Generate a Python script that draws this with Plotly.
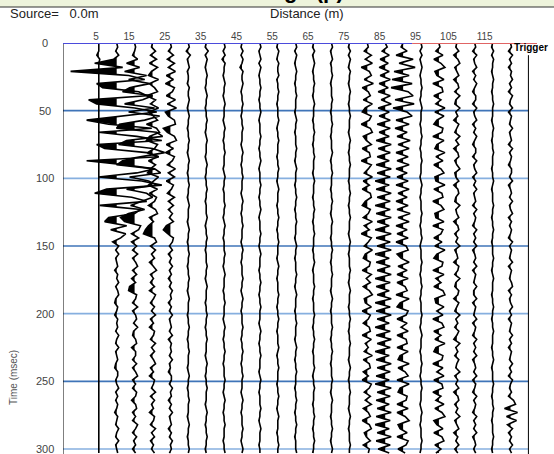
import numpy as np
import plotly.graph_objects as go

# ---------------- data ----------------
DT_MS = 3.0  # sample interval of every trace
OFFSETS_M = [5, 10, 15, 20, 25, 30, 35, 40, 45, 50, 55, 60,
             65, 70, 75, 80, 85, 90, 95, 100, 105, 110, 115, 120]
X_TICKS = [5, 15, 25, 35, 45, 55, 65, 75, 85, 95, 105, 115]
Y_TICKS = [0, 50, 100, 150, 200, 250, 300]

TR_05 = [0, 0, 0, -2, 1, 0, 0, 0, 0, 0,
         0, 0, 0, 0, 0, 0, 0, 0, 0, 0,
         0, 0, 0, 0, 0, 0, 0, 0, 0, 0,
         0, 0, 0, 0, 0, 0, 0, 0, 0, 0,
         0, 0, 0, 0, 0, 0, 0, 0, 0, 0,
         0, 0, 0, 0, 0, 0, 0, 0, 0, 0,
         0, 0, 0, 0, 0, 0, 0, 0, 0, 0,
         0, 0, 0, 0, 0, 0, 0, 0, 0, 0,
         0, 0, 0, 0, 0, 0, 0, 0, 0, 0,
         0, 0, 0, 0, 0, 0, 0, 0, 0, 0, 0, 0]
TR_10 = [0, 1, -1, 2, -3, -22, 6, -46, 12, 28,
         -20, -14, 22, 30, -28, -20, 18, 40, 5, -30,
         -8, 35, -18, 20, 45, -20, -12, 30, 42, -30,
         8, 38, 20, -18, 25, 45, -10, -22, 15, 30,
         -17, 24, 18, -8, -12, 10, -6, 9, 4, -4,
         2, -1, 2, -1, 0, 1, -2, 1, 0, 2,
         -1, 1, 2, -1, -2, 1, 0, -2, 1, 0,
         1, -1, 2, 0, -1, 2, -1, 0, 1, -1,
         -2, 1, 1, -1, 0, 2, -1, 1, -1, 1,
         0, -2, 1, 0, -1, 2, 0, -1, 2, -1, 0, 1]
TR_15 = [0, 1, 0, -2, 3, -8, 5, -10, 12, -6,
         15, -5, -12, 18, 8, -10, 20, -6, 25, 10,
         -15, -18, 22, 28, -8, -16, 18, 30, 5, -12,
         -18, 20, 26, -5, 14, 22, -8, 12, 18, 6,
         -4, 10, -6, -14, -10, 6, 4, -3, 4, -3,
         2, -2, 3, -2, 1, 3, -2, 2, -3, 1,
         -5, -6, 2, 1, -2, 3, -2, 1, 2, -1,
         3, -1, -2, 1, 2, -3, 1, 1, -2, 2,
         -2, 1, 3, -2, 1, -2, 2, 1, -3, 1,
         2, -2, 1, -2, 3, 1, -2, 2, -1, 1, -2, 1]
TR_20 = [0, -1, 3, -2, 4, -3, 5, -1, -4, 6,
         -3, 2, 5, -6, 3, -2, 6, -4, 1, 5,
         -6, 4, 7, -3, -6, 5, 2, -5, 6, -4,
         3, -2, -5, 6, 1, -4, 5, -3, 4, 2,
         -4, 3, 5, -3, 1, -4, -7, -9, 2, 4,
         -2, 3, -1, 2, -3, 1, 4, -2, 1, -2,
         2, -3, 3, 1, -2, 2, -1, 3, -2, 1,
         -3, 2, 1, -2, 3, -1, 2, -2, 1, 3,
         -2, 1, -3, 2, 1, -1, 3, -2, 2, -1,
         1, -3, 2, 1, -2, 3, -1, 2, -2, 1, -1, 2]
TR_25 = [0, 1, -2, 3, -3, 4, -2, 5, -4, 3,
         -5, 4, 2, -4, 5, -3, 6, -5, -2, 4,
         5, -7, -3, 4, 6, -4, 3, -5, 4, 2,
         -3, 5, -2, 4, -4, 3, 1, -3, 4, -2,
         3, -2, 2, -1, 3, -4, -7, -3, 3, 2,
         -1, 2, -2, 1, -1, 2, -1, 1, -2, 1,
         -1, 2, 0, 1, -2, 1, -1, 2, -1, 0,
         1, -1, 2, -2, 1, 0, 1, -1, 2, -1,
         0, -2, 1, 1, -1, 2, 0, 1, -2, 1,
         -1, 2, -1, 0, 1, -2, 1, -1, 2, 0, 1, -1]
TR_30 = [0, 1, -2, 2, -1, 0, 1, -1, 0, 0,
         -1, 1, 0, 0, 1, 0, -1, 0, 1, 0,
         0, -1, 0, 0, 1, 0, 0, -1, 0, 1,
         0, 0, -1, 0, 0, 1, 0, 0, -1, 0,
         1, 0, 0, 0, -1, 0, 1, 0, 0, -1,
         0, 0, 1, 0, 0, -1, 0, 0, 1, 0,
         0, -1, 0, 1, 0, 0, 0, -1, 0, 0,
         1, 0, 0, -1, 0, 0, 1, 0, 0, 0,
         -1, 0, 1, 0, 0, -1, 0, 0, 1, 0,
         0, 0, -1, 0, 1, 0, 0, -1, 0, 0, 1, 0]
TR_35 = [0, -1, 2, -1, 1, 0, -1, 0, 1, 0,
         0, -1, 0, 1, 0, 0, -1, 0, 0, 1,
         0, 0, -1, 0, 1, 0, 0, 0, -1, 0,
         1, 0, 0, -1, 0, 0, 1, 0, 0, -1,
         0, 0, 0, 1, 0, -1, 0, 0, 1, 0,
         0, -1, 0, 0, 0, 1, 0, 0, -1, 0,
         1, 0, 0, 0, -1, 0, 0, 1, 0, 0,
         -1, 0, 0, 1, 0, 0, 0, -1, 0, 1,
         0, 0, -1, 0, 0, 1, 0, 0, 0, -1,
         0, 1, 0, 0, -1, 0, 0, 1, 0, 0, -1, 0]
TR_40 = [0, 1, -1, 1, -2, 1, 0, 0, -1, 0,
         1, 0, 0, -1, 0, 1, 0, 0, 0, -1,
         0, 1, 0, 0, -1, 0, 0, 1, 0, 0,
         0, -1, 0, 1, 0, 0, -1, 0, 0, 0,
         1, 0, 0, -1, 0, 1, 0, 0, -1, 0,
         0, 0, 1, 0, 0, -1, 0, 1, 0, 0,
         0, -1, 0, 0, 1, 0, 0, 0, -1, 0,
         1, 0, 0, -1, 0, 0, 1, 0, 0, -1,
         0, 0, 0, 1, 0, 0, -1, 0, 1, 0,
         0, -1, 0, 0, 1, 0, 0, 0, -1, 0, 0, 1]
TR_45 = [0, -1, 1, -1, 1, 0, -2, 1, 0, 0,
         1, 0, -1, 0, 0, 1, 0, 0, -1, 0,
         0, 1, 0, 0, 0, -1, 0, 1, 0, 0,
         -1, 0, 0, 1, 0, 0, 0, -1, 0, 1,
         0, 0, -1, 0, 0, 1, 0, 0, 0, -1,
         0, 1, 0, 0, -1, 0, 0, 0, 1, 0,
         0, -1, 0, 1, 0, 0, -1, 0, 0, 0,
         1, 0, 0, -1, 0, 0, 1, 0, 0, -1,
         0, 0, 1, 0, 0, 0, -1, 0, 1, 0,
         0, -1, 0, 0, 0, 1, 0, 0, -1, 0, 1, 0]
TR_50 = [0, 1, -1, 0, 1, -1, 1, 0, -1, 0,
         0, 1, 0, 0, -1, 0, 0, 1, 0, -1,
         0, 0, 0, 1, 0, 0, -1, 0, 0, 1,
         0, -1, 0, 0, 0, 1, 0, 0, -1, 0,
         0, 1, 0, -1, 0, 0, 0, 1, 0, 0,
         -1, 0, 1, 0, 0, 0, -1, 0, 0, 1,
         0, 0, -1, 0, 0, 1, 0, 0, 0, -1,
         0, 1, 0, 0, -1, 0, 0, 1, 0, 0,
         0, -1, 0, 1, 0, 0, -1, 0, 0, 0,
         1, 0, 0, -1, 0, 1, 0, 0, 0, -1, 0, 0]
TR_55 = [0, -1, 1, 0, -1, 1, 0, 0, 1, -1,
         0, 0, 1, 0, 0, -1, 0, 0, 0, 1,
         0, -1, 0, 0, 1, 0, 0, 0, -1, 0,
         0, 1, 0, 0, -1, 0, 1, 0, 0, 0,
         -1, 0, 0, 1, 0, 0, -1, 0, 0, 1,
         0, 0, 0, -1, 0, 1, 0, 0, -1, 0,
         0, 0, 1, 0, 0, -1, 0, 0, 1, 0,
         0, -1, 0, 0, 0, 1, 0, -1, 0, 0,
         1, 0, 0, 0, -1, 0, 0, 1, 0, 0,
         -1, 0, 1, 0, 0, 0, -1, 0, 0, 1, 0, 0]
TR_60 = [0, 1, -1, 1, 0, -1, 0, 1, 0, 0,
         -1, 0, 0, 1, 0, 0, 0, -1, 0, 1,
         0, 0, -1, 0, 0, 0, 1, 0, 0, -1,
         0, 1, 0, 0, 0, -1, 0, 0, 1, 0,
         0, -1, 0, 0, 1, 0, 0, 0, -1, 0,
         1, 0, 0, -1, 0, 0, 0, 1, 0, 0,
         -1, 0, 1, 0, 0, 0, -1, 0, 0, 1,
         0, 0, 0, -1, 0, 1, 0, 0, -1, 0,
         0, 1, 0, 0, 0, -1, 0, 0, 1, 0,
         0, -1, 0, 0, 1, 0, 0, -1, 0, 0, 0, 1]
TR_65 = [0, -1, 1, -1, 0, 1, 0, -1, 0, 0,
         1, 0, 0, -1, 0, 1, 0, 0, 0, -1,
         0, 0, 1, 0, 0, -1, 0, 0, 1, 0,
         0, 0, -1, 0, 1, 0, 0, 0, -1, 0,
         0, 1, 0, 0, -1, 0, 0, 1, 0, 0,
         0, -1, 0, 0, 1, 0, -1, 0, 0, 0,
         1, 0, 0, -1, 0, 0, 0, 1, 0, 0,
         -1, 0, 0, 1, 0, 0, -1, 0, 0, 0,
         1, 0, -1, 0, 0, 1, 0, 0, 0, -1,
         0, 0, 1, 0, 0, -1, 0, 0, 1, 0, 0, -1]
TR_70 = [0, 1, -1, 0, 1, -1, 0, 0, 1, 0,
         -1, 0, 0, 0, 1, 0, 0, -1, 0, 0,
         1, 0, 0, -1, 0, 0, 0, 1, 0, -1,
         0, 0, 1, 0, 0, 0, -1, 0, 0, 1,
         0, 0, -1, 0, 1, 0, 0, 0, -1, 0,
         0, 1, 0, 0, -1, 0, 0, 1, 0, 0,
         0, -1, 0, 1, 0, 0, -1, 0, 0, 0,
         1, 0, 0, -1, 0, 0, 1, 0, 0, -1,
         0, 0, 0, 1, 0, 0, -1, 0, 1, 0,
         0, 0, -1, 0, 0, 1, 0, 0, -1, 0, 1, 0]
TR_75 = [0, -1, 1, -1, 1, 0, -1, 1, 0, 0,
         -1, 0, 1, 0, 0, -1, 0, 0, 1, 0,
         0, 0, -1, 0, 1, 0, 0, -1, 0, 0,
         1, 0, 0, 0, -1, 0, 0, 1, 0, 0,
         -1, 0, 0, 1, 0, 0, 0, -1, 0, 1,
         0, 0, -1, 0, 0, 0, 1, 0, 0, -1,
         0, 1, 0, 0, 0, -1, 0, 0, 1, 0,
         0, -1, 0, 0, 1, 0, 0, 0, -1, 0,
         1, 0, 0, -1, 0, 0, 1, 0, 0, 0,
         -1, 0, 1, 0, 0, -1, 0, 0, 0, 1, 0, 0]
TR_80 = [0, 1, -3, 4, -2, 5, -6, 2, 4, -3,
         6, -5, 1, 3, -4, 5, -2, -5, 4, 2,
         -6, 3, 5, -4, -1, 4, -5, 2, 3, -6,
         4, 1, -3, 5, -4, 2, -5, 3, 4, -2,
         -5, 3, 1, -4, 5, -3, 2, -6, 4, 1,
         -3, 5, -2, -4, 3, 2, -5, 4, -1, 3,
         -4, 2, 5, -3, -2, 4, -5, 3, 1, -4,
         2, 3, -5, 4, -2, 1, -3, 5, -4, 2,
         3, -4, 1, -5, 4, 2, -3, 3, -2, 4,
         -4, 1, 3, -5, 2, 4, -3, -1, 3, -4, 2, 1]
TR_85 = [0, 2, -3, 4, -5, 3, -6, 4, -5, 5,
         -6, 3, -7, 5, -4, 6, -7, 4, -6, 5,
         -8, 5, -6, 4, -9, 6, -7, 5, -8, 4,
         -9, 6, -8, 5, -10, 4, -9, 6, -8, 5,
         -10, 5, -9, 6, -8, 4, -10, 6, -9, 5,
         -8, 6, -10, 4, -9, 5, -8, 6, -10, 5,
         -9, 4, -8, 6, -10, 5, -9, 6, -8, 4,
         -10, 5, -9, 6, -8, 5, -10, 4, -9, 6,
         -8, 5, -9, 4, -10, 6, -8, 5, -9, 4,
         -8, 6, -9, 5, -10, 4, -8, 6, -9, 5, -7, 4]
TR_90 = [0, -2, 4, -7, 10, -4, 12, -9, 6, -11,
         9, -12, 5, 10, -8, 11, -10, 4, 9, -7,
         6, -8, 4, -6, 7, -5, 6, -7, 5, -6,
         6, -7, 4, -6, 5, -7, 6, -5, 4, -7,
         5, -6, 7, -5, 6, -7, 4, -6, 5, -7,
         3, 5, -6, -2, 6, -5, 4, -6, 5, -6,
         2, 4, -7, 6, -3, -6, 5, 3, -6, 4,
         -2, 5, -6, 3, 4, -6, 5, -3, -5, 6,
         -5, 2, 5, -6, 6, -3, -5, 4, 3, -6,
         5, -6, 2, 6, -5, -3, 4, -6, 5, 3, -5, 2]
TR_95 = [0, 1, -1, 1, -1, 0, 1, 0, -1, 0,
         0, 1, 0, 0, -1, 0, 1, 0, 0, 0,
         -1, 0, 0, 1, 0, 0, -1, 0, 0, 1,
         0, 0, 0, -1, 0, 1, 0, 0, -1, 0,
         0, 0, 1, 0, 0, -1, 0, 0, 1, 0,
         -1, 0, 0, 0, 1, 0, 0, -1, 0, 0,
         1, 0, 0, -1, 0, 0, 0, 1, 0, 0,
         -1, 0, 1, 0, 0, 0, -1, 0, 0, 1,
         0, 0, -1, 0, 0, 1, 0, 0, 0, -1,
         0, 1, 0, 0, -1, 0, 0, 0, 1, 0, 0, -1]
TR_100 = [0, 1, -3, 4, -5, 2, 6, -4, -2, 5,
          -6, 3, 4, -5, 2, -3, 6, -4, 5, -2,
          -5, 4, 3, -6, 5, -2, -4, 6, -3, 4,
          -5, 2, 5, -4, -3, 6, -5, 3, 4, -6,
          2, 5, -4, -3, 5, -6, 4, 2, -5, 3,
          -4, 6, -2, -5, 4, 3, -6, 5, -3, 2,
          -5, 4, 6, -4, -3, 5, -2, 4, -6, 3,
          5, -5, 2, -4, 6, -3, -5, 4, 3, -6,
          4, -2, 5, -5, 3, 4, -6, 2, -3, 5,
          -4, 3, 6, -5, -2, 4, -5, 3, 5, -4, 2, -3]
TR_105 = [0, -1, 2, -3, 1, 3, -2, 0, 2, -3,
          1, 2, -2, 3, -1, -2, 3, -1, 1, -3,
          2, 0, -2, 3, -1, 2, -3, 1, 2, -2,
          0, 3, -2, -1, 2, -3, 1, 2, -1, -2,
          3, -1, 0, 2, -3, 1, 2, -2, 1, -1,
          3, -2, 0, 1, -3, 2, 1, -2, 3, -1,
          -2, 2, 1, -3, 2, 0, -2, 3, -1, 1,
          -2, 2, 0, -3, 3, -1, 1, -2, 2, 0,
          -1, 3, -2, 1, -1, 2, -3, 1, 2, -2,
          1, -1, 3, -2, 0, 2, -3, 1, -1, 2, -2, 1]
TR_110 = [0, 1, -2, 2, -1, 0, 2, -2, 1, -1,
          2, 0, -2, 1, 1, -2, 2, -1, 0, 2,
          -2, 1, -1, 2, 0, -2, 1, 1, -2, 2,
          -1, 0, 2, -2, 1, -1, 2, -1, 0, 1,
          -2, 2, -1, 1, 0, -2, 2, -1, 1, -1,
          2, -2, 0, 1, -1, 2, -2, 1, 0, -1,
          2, -1, -1, 2, -2, 1, 0, -1, 2, -2,
          1, 0, -2, 2, -1, 1, -1, 2, -2, 0,
          1, -1, 2, -2, 1, 0, -2, 2, -1, 1,
          0, -2, 2, -1, 1, -1, 2, -2, 0, 1, -1, 1]
TR_115 = [0, -1, 1, -1, 1, 0, 0, -1, 0, 1,
          0, 0, -1, 0, 0, 1, 0, 0, 0, -1,
          0, 1, 0, 0, -1, 0, 0, 1, 0, 0,
          0, -1, 0, 0, 1, 0, -1, 0, 0, 0,
          1, 0, 0, -1, 0, 0, 1, 0, 0, -1,
          0, 0, 0, 1, 0, 0, -1, 0, 1, 0,
          0, 0, -1, 0, 0, 1, 0, 0, -1, 0,
          0, 1, 0, 0, 0, -1, 0, 0, 1, 0,
          -1, 0, 0, 0, 1, 0, 0, -1, 0, 0,
          1, 0, 0, -1, 0, 0, 0, 1, 0, 0, -1, 0]
TR_120 = [0, 1, -2, 2, -1, 1, -2, 1, 0, 2,
          -1, 1, -2, 2, 0, -1, 2, -2, 1, 0,
          -1, 2, -1, 0, 1, -2, 2, -1, 1, 0,
          -2, 1, 1, -1, 2, -2, 0, 1, -1, 2,
          -1, 0, 2, -2, 1, -1, 1, 0, -2, 2,
          -1, 1, 0, -1, 2, -2, 1, 0, -1, 1,
          2, -2, 1, -1, 0, 2, -1, 1, -2, 1,
          0, -1, 2, -1, 1, -2, 1, 0, -1, 2,
          -1, 1, -2, 2, 0, -1, 1, -2, 3, 5,
          -6, 7, -4, 6, -3, 2, -2, 1, -1, 2, -1, 1]

TRACES = [TR_05, TR_10, TR_15, TR_20, TR_25, TR_30, TR_35, TR_40,
          TR_45, TR_50, TR_55, TR_60, TR_65, TR_70, TR_75, TR_80,
          TR_85, TR_90, TR_95, TR_100, TR_105, TR_110, TR_115, TR_120]

# ---------------- layout constants ----------------
W, H = 554, 454
ML, MR, MT, MB = 63, 17, 43, 0
X_RANGE = [-5.0, 127.4]
Y_RANGE = [303.7, 0.0]
GAIN = 0.28          # metres of horizontal deflection per amplitude unit
PW, PH = W - ML - MR, H - MT - MB


def px_x(px):
    return (px - ML) / PW


def px_y(py):
    return 1 - (py - MT) / PH


def wiggle(offset, amp):
    """Return wiggle line and negative-lobe polygon for one trace."""
    a = np.asarray(amp, dtype=float)
    t = np.arange(len(a)) * DT_MS
    ts, vs = [t[0]], [a[0]]
    for i in range(1, len(a)):
        if a[i - 1] * a[i] < 0:
            tz = t[i - 1] + (t[i] - t[i - 1]) * a[i - 1] / (a[i - 1] - a[i])
            ts.append(tz)
            vs.append(0.0)
        ts.append(t[i])
        vs.append(a[i])
    ts, vs = np.array(ts), np.array(vs)
    line_x = offset + vs * GAIN
    neg = np.minimum(vs, 0.0)
    fill_x = np.concatenate([[offset], offset + neg * GAIN, [offset]])
    fill_y = np.concatenate([[ts[0]], ts, [ts[-1]]])
    return line_x, ts, fill_x, fill_y


lx, ly, fx, fy = [], [], [], []
for off, amp in zip(OFFSETS_M, TRACES):
    a, b, c, d = wiggle(off, amp)
    lx += list(a) + [None]
    ly += list(b) + [None]
    fx += list(c) + [None]
    fy += list(d) + [None]

fig = go.Figure()
fig.add_trace(go.Scatter(x=fx, y=fy, mode="lines", fill="toself",
                         fillcolor="black", line=dict(width=0, color="black"),
                         hoverinfo="skip", showlegend=False))
fig.add_trace(go.Scatter(x=lx, y=ly, mode="lines",
                         line=dict(width=1.6, color="black"),
                         hoverinfo="skip", showlegend=False))

shapes = []
# horizontal time lines
for v in Y_TICKS[1:]:
    col = "#3f74b8" if (v // 50) % 2 == 1 else "#86afdf"
    shapes.append(dict(type="line", xref="x", yref="y", x0=X_RANGE[0], x1=125,
                       y0=v, y1=v, line=dict(color=col, width=1.6), layer="below"))
# frame
shapes.append(dict(type="line", xref="x", yref="y", x0=-5, x1=-5, y0=0, y1=Y_RANGE[0],
                   line=dict(color="black", width=1)))
shapes.append(dict(type="line", xref="x", yref="y", x0=125, x1=125, y0=9, y1=Y_RANGE[0],
                   line=dict(color="black", width=1)))
# distance line along the top (blue / red)
shapes.append(dict(type="line", xref="x", yref="y", x0=-5, x1=92.5, y0=0, y1=0,
                   line=dict(color="#4b4bdc", width=2)))
shapes.append(dict(type="line", xref="x", yref="y", x0=92.5, x1=127.4, y0=0, y1=0,
                   line=dict(color="#e06464", width=2)))
# header band
shapes.append(dict(type="rect", xref="paper", yref="paper", x0=px_x(0), x1=px_x(W),
                   y0=px_y(7), y1=px_y(-2), fillcolor="#eef4dc", line=dict(width=0),
                   layer="below"))
shapes.append(dict(type="line", xref="paper", yref="paper", x0=px_x(0), x1=px_x(W),
                   y0=px_y(7), y1=px_y(7), line=dict(color="#333333", width=1.2)))

FONT = "Arial, Liberation Sans, sans-serif"
annotations = [
    dict(text="<b>Shot Gather Image (p)</b>", x=px_x(346), y=px_y(-10),
         xref="paper", yref="paper", showarrow=False,
         font=dict(family=FONT, size=22, color="black"),
         xanchor="right", yanchor="middle"),
    dict(text="Source=\u00a0\u00a0 0.0m", x=px_x(8), y=px_y(14), xref="paper", yref="paper",
         showarrow=False, font=dict(family=FONT, size=13, color="#222"),
         xanchor="left", yanchor="middle"),
    dict(text="Distance (m)", x=px_x(307), y=px_y(14), xref="paper", yref="paper",
         showarrow=False, font=dict(family=FONT, size=13, color="#222"),
         xanchor="center", yanchor="middle"),
    dict(text="<b>Trigger</b>", x=px_x(512), y=px_y(48), xref="paper", yref="paper",
         showarrow=False, font=dict(family=FONT, size=10, color="black"),
         xanchor="left", yanchor="middle"),
    dict(text="Time (msec)", x=px_x(13), y=px_y(378), xref="paper", yref="paper",
         showarrow=False, textangle=-90,
         font=dict(family=FONT, size=10, color="#555"),
         xanchor="center", yanchor="middle"),
]
# time labels, centred left of the frame
for v in Y_TICKS:
    annotations.append(dict(text=str(v), x=px_x(45), y=v, xref="paper", yref="y",
                            showarrow=False, xanchor="center", yanchor="middle",
                            font=dict(family=FONT, size=11, color="#444")))

fig.update_layout(
    width=W, height=H,
    margin=dict(l=ML, r=MR, t=MT, b=MB, pad=0),
    paper_bgcolor="white", plot_bgcolor="white",
    shapes=shapes, annotations=annotations,
    xaxis=dict(range=X_RANGE, side="top", tickvals=X_TICKS,
               ticktext=[str(v) for v in X_TICKS],
               ticklabelposition="outside left",
               ticks="", showgrid=False, zeroline=False, showline=False,
               tickfont=dict(family=FONT, size=10, color="#444")),
    yaxis=dict(range=Y_RANGE, showticklabels=False, ticks="", showgrid=False,
               zeroline=False, showline=False),
)

fig.write_html("out.html")
